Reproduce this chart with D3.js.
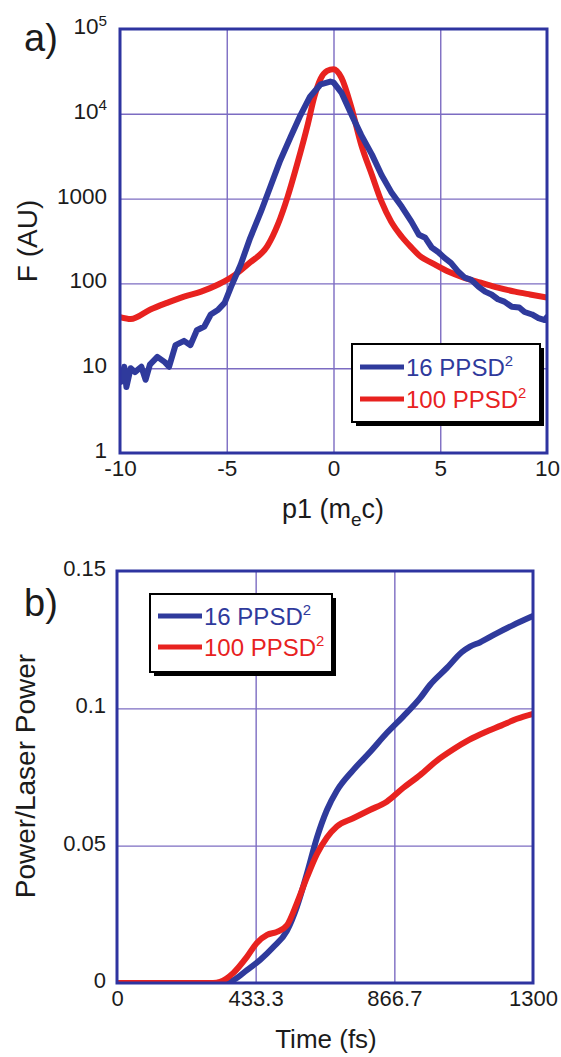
<!DOCTYPE html>
<html>
<head>
<meta charset="utf-8">
<script src="https://cdn.jsdelivr.net/npm/d3@7"></script>
<style>
  html, body { margin: 0; padding: 0; background: #ffffff; }
  svg { display: block; }
  text { font-family: "Liberation Sans", Arial, Helvetica, sans-serif; }
</style>
</head>
<body>
<svg id="fig" width="561" height="1057"></svg>
<script>
// ---------- panel a: distribution F(p1), log scale ----------
const pBlue = [-10, -9.95, -9.8, -9.7, -9.5, -9.3, -9.0, -8.8, -8.6, -8.25, -7.9, -7.7, -7.4, -7.0, -6.7,
  -6.4, -6.05, -5.75, -5.4, -5.1, -4.8, -4.35, -3.9, -3.4, -2.95, -2.5, -2.0, -1.55, -1.1, -0.6, -0.15,
  0.0, 0.37, 0.84, 1.3, 1.8, 2.25, 2.7, 3.2, 3.65, 4.0, 4.3, 4.6, 4.9, 5.2, 5.5, 5.85, 6.15, 6.45,
  6.8, 7.1, 7.4, 7.7, 8.0, 8.35, 8.7, 8.95, 9.3, 9.6, 9.9, 10];
const fBlue = [8, 6.9, 10.4, 6.0, 10, 9, 10.4, 7.3, 11, 13.6, 11.8, 10.4, 18.7, 21, 18.7,
  28, 31, 43, 49, 59, 91, 166, 345, 700, 1400, 2800, 5400, 9600, 15900, 22300, 24000,
  23500, 17800, 9800, 5600, 3300, 1900, 1200, 800, 535, 375, 345, 265, 235, 200, 175, 137, 117, 110,
  91, 80, 74, 65, 61, 53, 52, 46, 43, 39, 37, 40];

const pRed = [-10, -9.5, -8.6, -7.8, -7.0, -6.2, -5.4, -4.6, -3.9, -3.1, -2.6, -2.15, -1.7, -1.2, -0.9,
  -0.6, -0.3, 0, 0.37, 0.84, 1.3, 1.8, 2.25, 2.7, 3.2, 3.65, 4.1, 4.6, 5.4, 6.1, 6.9, 7.7, 8.5, 9.2, 10];
const fRed = [40, 38, 49, 59, 70, 80, 97, 127, 177, 275, 500, 1050, 2570, 7600, 15800,
  26000, 32000, 33500, 26700, 11800, 4300, 1900, 920, 535, 355, 265, 205, 175, 137, 117, 102, 89, 80, 74, 68];

const aXTicks = [-10, -5, 0, 5, 10];
const aXLabels = ["-10", "-5", "0", "5", "10"];
const aYTicks = [1, 10, 100, 1000, 1e4, 1e5];
const aYLabels = ["1", "10", "100", "1000", "10^4", "10^5"];

// ---------- panel b: power vs time ----------
const tBlue = [0, 330, 363, 406, 447, 488, 531, 562, 594, 625, 656, 687, 738, 790, 843, 894, 947,
  978, 1031, 1078, 1103, 1134, 1188, 1238, 1300];
const powBlue = [0, 0, 0.001, 0.0047, 0.0084, 0.013, 0.019, 0.0277, 0.040, 0.053, 0.063, 0.070, 0.0775,
  0.084, 0.091, 0.097, 0.1037, 0.1085, 0.1147, 0.1205, 0.1225, 0.124, 0.1274, 0.1303, 0.1336];

const tRed = [0, 300, 322, 363, 406, 437, 469, 500, 531, 562, 594, 625, 656, 687, 738, 790, 843, 894,
  947, 1000, 1050, 1100, 1150, 1200, 1250, 1300];
const powRed = [0, 0, 0.0004, 0.0036, 0.0095, 0.0146, 0.0175, 0.0186, 0.021, 0.029, 0.0386, 0.047,
  0.053, 0.057, 0.060, 0.063, 0.066, 0.071, 0.0757, 0.081, 0.085, 0.0885, 0.0913, 0.0937, 0.0962, 0.098];

const bXTicks = [0, 433.3, 866.7, 1300];
const bXLabels = ["0", "433.3", "866.7", "1300"];
const bYTicks = [0, 0.05, 0.1, 0.15];
const bYLabels = ["0", "0.05", "0.1", "0.15"];

const seriesNames = ["16 PPSD", "100 PPSD"];

// ---------- styling ----------
const BLUE = "#2f3a9c";
const RED = "#e8221f";
const FRAME = "#2e34a0";
const GRID = "#7c6cc2";
const INK = "#1b1b1b";

const svg = d3.select("#fig");

function drawPanel(opts) {
  const { x, y, xTicks, xLabels, yTicks, yLabels, series, tickFont, yPad, xPad, curveW, clipId } = opts;
  const [x0, x1] = x.range();
  const [y0, y1] = y.range(); // y0 bottom, y1 top
  const g = svg.append("g");

  // grid lines
  g.append("g")
    .attr("transform", `translate(0,${y0})`)
    .call(d3.axisBottom(x).tickValues(xTicks.slice(1, -1)).tickSize(-(y0 - y1)).tickFormat(""))
    .call(s => s.select(".domain").remove())
    .call(s => s.selectAll("line").attr("stroke", GRID).attr("stroke-width", 1.4));
  g.append("g")
    .attr("transform", `translate(${x0},0)`)
    .call(d3.axisLeft(y).tickValues(yTicks.slice(1, -1)).tickSize(-(x1 - x0)).tickFormat(""))
    .call(s => s.select(".domain").remove())
    .call(s => s.selectAll("line").attr("stroke", GRID).attr("stroke-width", 1.4));

  // clip to the frame
  svg.append("defs").append("clipPath").attr("id", clipId)
    .append("rect").attr("x", x0).attr("y", y1).attr("width", x1 - x0).attr("height", y0 - y1);

  const curves = g.append("g").attr("clip-path", `url(#${clipId})`);
  series.forEach(s => {
    const line = d3.line()
      .x((d, i) => x(s.xs[i]))
      .y(d => y(d))
      .curve(s.curve);
    curves.append("path")
      .datum(s.ys)
      .attr("d", line)
      .attr("fill", "none")
      .attr("stroke", s.color)
      .attr("stroke-width", curveW)
      .attr("stroke-linejoin", "round")
      .attr("stroke-linecap", "round");
  });

  // frame
  g.append("rect")
    .attr("x", x0).attr("y", y1).attr("width", x1 - x0).attr("height", y0 - y1)
    .attr("fill", "none").attr("stroke", FRAME).attr("stroke-width", 3);

  // tick labels
  const ax = g.append("g")
    .attr("transform", `translate(0,${y0})`)
    .call(d3.axisBottom(x).tickValues(xTicks).tickSize(0).tickPadding(xPad)
      .tickFormat((d, i) => xLabels[i]));
  ax.select(".domain").remove();
  ax.attr("font-family", null).attr("font-size", null);
  ax.selectAll("text").attr("font-size", tickFont).attr("fill", INK);

  const ay = g.append("g")
    .attr("transform", `translate(${x0},0)`)
    .call(d3.axisLeft(y).tickValues(yTicks).tickSize(0).tickPadding(yPad)
      .tickFormat((d, i) => yLabels[i]));
  ay.select(".domain").remove();
  ay.attr("font-family", null).attr("font-size", null);
  ay.selectAll("text").attr("font-size", tickFont).attr("fill", INK).attr("dy", "0.2em")
    .each(function () {
      const t = d3.select(this);
      const str = t.text();
      if (str.includes("^")) {
        const [base, sup] = str.split("^");
        t.text(base);
        t.append("tspan").attr("font-size", tickFont * 0.68).attr("dy", "-0.55em").text(sup);
      }
    });
  return g;
}

function drawLegend(x0, y0, w, h, rows, fontSize) {
  const g = svg.append("g");
  g.append("rect").attr("x", x0 + 4).attr("y", y0 + 4).attr("width", w).attr("height", h).attr("fill", "#000");
  g.append("rect").attr("x", x0).attr("y", y0).attr("width", w).attr("height", h)
    .attr("fill", "#fff").attr("stroke", "#000").attr("stroke-width", 2);
  rows.forEach((r, i) => {
    const yy = y0 + r.dy;
    g.append("line").attr("x1", x0 + 8).attr("x2", x0 + 52).attr("y1", yy).attr("y2", yy)
      .attr("stroke", r.color).attr("stroke-width", 5);
    const t = g.append("text").attr("x", x0 + 54).attr("y", yy + fontSize * 0.36)
      .attr("font-size", fontSize).attr("fill", r.color).text(r.label);
    t.append("tspan").attr("font-size", fontSize * 0.62).attr("dy", -fontSize * 0.42).text("2");
  });
}

// ---------- panel a ----------
const xa = d3.scaleLinear().domain([-10, 10]).range([120, 547]);
const ya = d3.scaleLog().domain([1, 1e5]).range([453, 29]);
drawPanel({
  x: xa, y: ya, xTicks: aXTicks, xLabels: aXLabels, yTicks: aYTicks, yLabels: aYLabels,
  tickFont: 22.5, yPad: 13, xPad: 7, curveW: 6, clipId: "clipA",
  series: [
    { xs: pRed, ys: fRed, color: RED, curve: d3.curveMonotoneX },
    { xs: pBlue, ys: fBlue, color: BLUE, curve: d3.curveLinear }
  ]
});
drawLegend(352, 344, 188, 78, [
  { label: seriesNames[0], color: BLUE, dy: 23 },
  { label: seriesNames[1], color: RED, dy: 55 }
], 24);

svg.append("text").attr("x", 24).attr("y", 51).attr("font-size", 38).attr("fill", INK).text("a)");
svg.append("text")
  .attr("transform", "translate(37,241) rotate(-90)")
  .attr("text-anchor", "middle").attr("font-size", 28).attr("fill", INK).text("F (AU)");
const xlabA = svg.append("text").attr("x", 333).attr("y", 518).attr("text-anchor", "middle")
  .attr("font-size", 27).attr("fill", INK).text("p1 (m");
xlabA.append("tspan").attr("font-size", 19).attr("dy", 8).text("e");
xlabA.append("tspan").attr("dy", -8).text("c)");

// ---------- panel b ----------
const xb = d3.scaleLinear().domain([0, 1300]).range([117, 533]);
const yb = d3.scaleLinear().domain([0, 0.15]).range([983, 571]);
drawPanel({
  x: xb, y: yb, xTicks: bXTicks, xLabels: bXLabels, yTicks: bYTicks, yLabels: bYLabels,
  tickFont: 22, yPad: 11, xPad: 7, curveW: 6, clipId: "clipB",
  series: [
    { xs: tBlue, ys: powBlue, color: BLUE, curve: d3.curveMonotoneX },
    { xs: tRed, ys: powRed, color: RED, curve: d3.curveMonotoneX }
  ]
});
drawLegend(150, 594, 182, 78, [
  { label: seriesNames[0], color: BLUE, dy: 22 },
  { label: seriesNames[1], color: RED, dy: 53 }
], 24);

svg.append("text").attr("x", 24).attr("y", 616).attr("font-size", 38).attr("fill", INK).text("b)");
svg.append("text")
  .attr("transform", "translate(35,776) rotate(-90)")
  .attr("text-anchor", "middle").attr("font-size", 28).attr("fill", INK).text("Power/Laser Power");
svg.append("text").attr("x", 326).attr("y", 1048).attr("text-anchor", "middle")
  .attr("font-size", 26).attr("fill", INK).text("Time (fs)");
</script>
</body>
</html>
